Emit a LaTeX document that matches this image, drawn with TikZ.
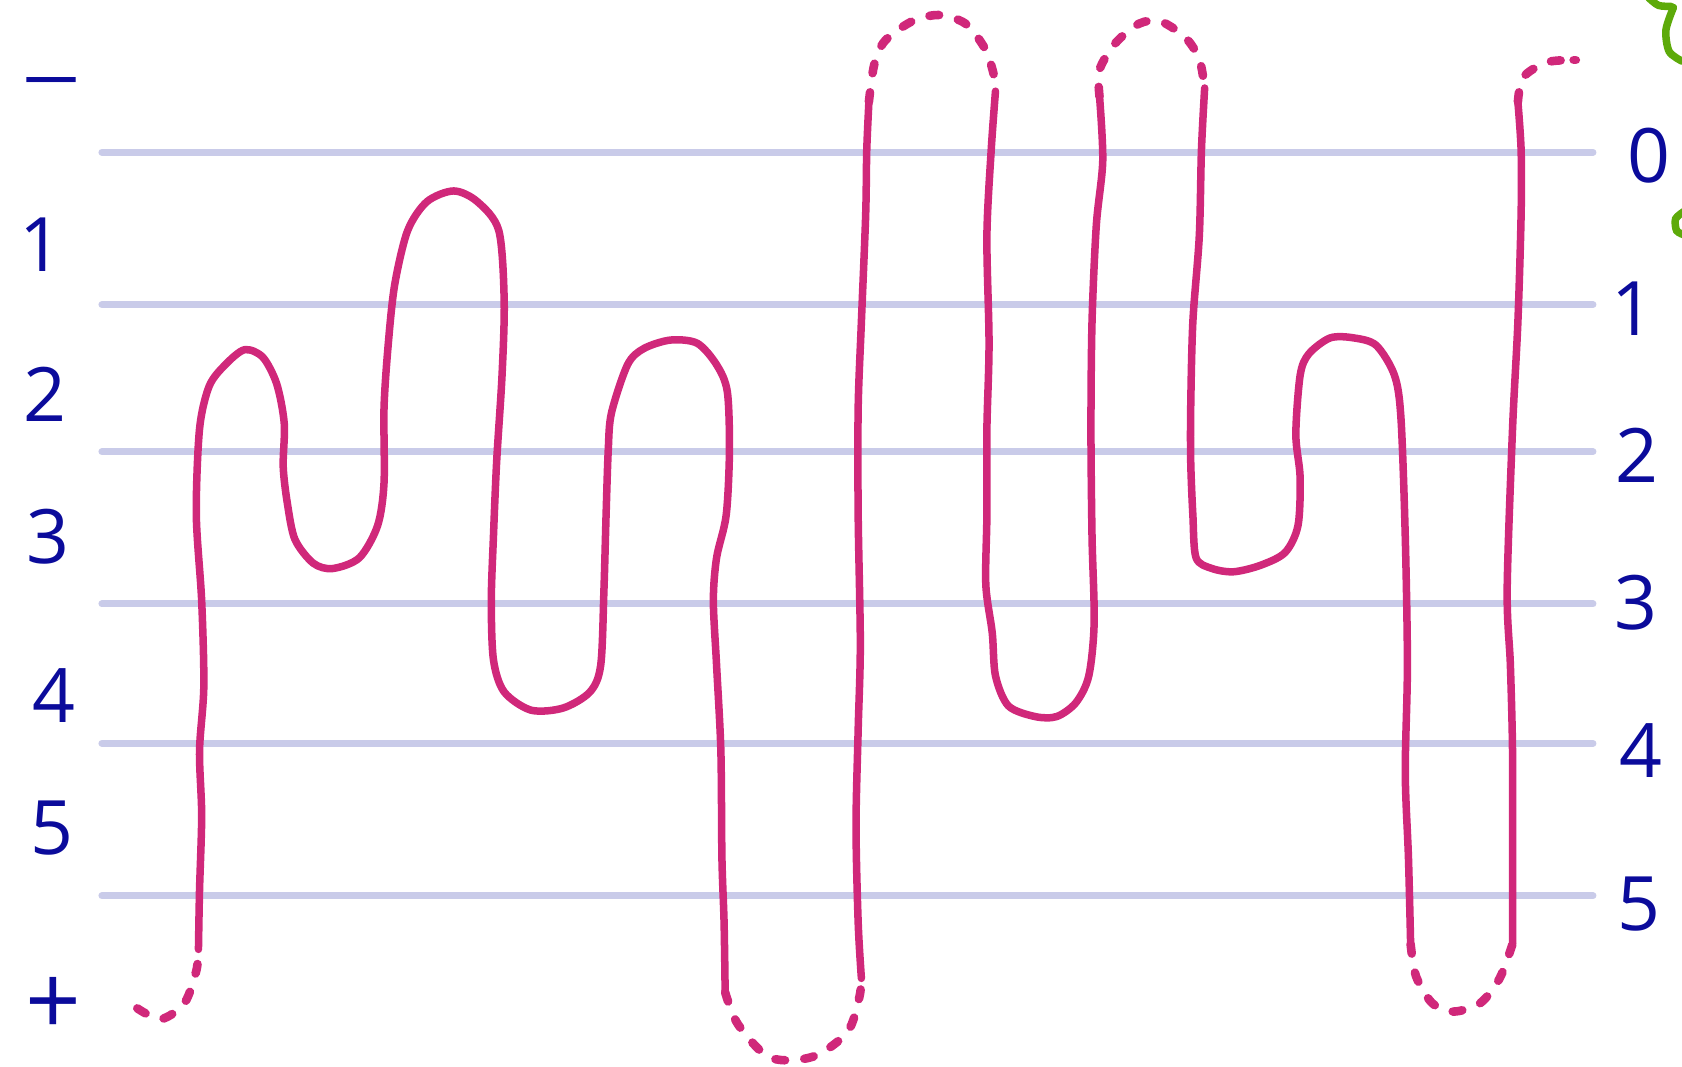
\documentclass[tikz,border=0pt]{standalone}
\usepackage{fontspec}
\setmainfont{Open Sans}
\definecolor{pen}{HTML}{D0287A}
\definecolor{staff}{HTML}{C9CBE9}
\definecolor{ink}{HTML}{0B0B9B}
\definecolor{leaf}{HTML}{5DAA0A}
\begin{document}
\begin{tikzpicture}[x=1pt,y=-1pt,
  staffline/.style={staff,line width=6.5pt,line cap=round},
  solidpen/.style={pen,line width=7pt,line cap=round,line join=round},
  dotpen/.style={pen,line width=8pt,line cap=round,dash pattern=on 9pt off 18pt},
  greenpen/.style={leaf,line width=7pt,line cap=round},
  lab/.style={ink,font=\fontsize{70}{70}\selectfont,inner sep=0pt}]
\useasboundingbox (0,0) rectangle (1568,994);
% staff lines
\foreach \y in {142,284,421,563,693,835}
  \draw[staffline] (95,\y) -- (1485,\y);
% left labels
\node[lab,xscale=1.4] (lminus) at (48,86) {−};
\node[lab] (l1) at (38,228) {1};
\node[lab] (l2) at (42,368) {2};
\node[lab] (l3) at (45,500) {3};
\node[lab] (l4) at (50,648) {4};
\node[lab] (l5) at (48,772) {5};
\node[lab,scale=1.3] (lplus) at (50,938) {+};
% right labels
\node[lab] (r0) at (1537,145) {0};
\node[lab] (r1) at (1522,288) {1};
\node[lab] (r2) at (1526,424) {2};
\node[lab] (r3) at (1525,562) {3};
\node[lab] (r4) at (1530,700) {4};
\node[lab] (r5) at (1528,843) {5};
% green fragments
\draw[greenpen] plot[smooth] coordinates {(1537,-2) (1546,5) (1558,6)};
\draw[greenpen] plot[smooth] coordinates {(1560,7) (1553,28) (1556,48) (1568,57)};
\draw[greenpen] plot[smooth] coordinates {(1570,197) (1562,204) (1563,215) (1570,219)};
% meander: dashed start
\draw[dotpen] plot[smooth] coordinates {(128,940) (150,950) (172,935) (183,905) (185,885)};
% solid 1
\draw[solidpen] plot[smooth,tension=0.5] coordinates {
 (185,885) (186,830) (188,760) (186,700) (190,640) (188,560) (183,480) (186,400)
 (195,360) (210,340) (228,326) (245,333) (258,358) (265,395) (264,435)
 (268,470) (275,503) (292,525) (310,530) (335,520) (352,490) (358,450) (358,380)
 (362,320) (368,265) (380,215) (398,188) (423,178) (445,188) (465,215) (470,280)
 (468,350) (463,430) (460,500) (458,560) (460,615) (470,645) (495,662) (525,660)
 (550,645) (560,620) (563,550) (565,480) (567,420) (570,385) (585,340) (600,325)
 (625,317) (650,320) (668,340) (678,365) (680,420) (677,480) (668,520) (665,560)
 (668,620) (672,700) (673,800) (675,860) (676,925)};
\draw[dotpen] plot[smooth] coordinates {(676,925) (688,955) (718,986) (758,985) (790,962) (801,930) (803,912)};
% solid 2
\draw[solidpen] plot[smooth,tension=0.5] coordinates {
 (803,912) (800,860) (798,770) (800,680) (802,600) (800,480) (800,380) (803,300)
 (807,200) (808,140) (810,95)};
\draw[dotpen] plot[smooth] coordinates {(810,95) (815,60) (825,38) (850,20) (875,14) (900,22) (918,45) (926,68) (928,85)};
% solid 3
\draw[solidpen] plot[smooth,tension=0.5] coordinates {
 (928,85) (924,140) (920,220) (922,320) (920,400) (920,480) (919,545) (925,590)
 (928,630) (940,658) (965,668) (985,668) (1003,655) (1015,630) (1020,580) (1018,500)
 (1017,400) (1018,300) (1022,210) (1028,150) (1025,90)};
\draw[dotpen] plot[smooth] coordinates {(1025,90) (1025,65) (1040,40) (1062,22) (1082,20) (1105,35) (1118,55) (1123,82)};
% solid 4
\draw[solidpen] plot[smooth,tension=0.5] coordinates {
 (1123,82) (1120,140) (1118,220) (1112,300) (1110,380) (1110,430) (1112,480) (1115,520)
 (1130,530) (1150,533) (1175,527) (1198,515) (1210,490) (1212,445) (1208,405) (1212,350)
 (1220,330) (1240,315) (1262,315) (1283,322) (1300,350) (1306,390) (1310,500) (1312,620)
 (1310,720) (1313,800) (1315,880)};
\draw[dotpen] plot[smooth] coordinates {(1315,880) (1320,910) (1335,935) (1355,943) (1380,935) (1398,912) (1410,880)};
% solid 5
\draw[solidpen] plot[smooth,tension=0.5] coordinates {
 (1410,880) (1410,800) (1410,700) (1408,620) (1405,550) (1410,400) (1415,300)
 (1418,200) (1418,140) (1415,95)};
\draw[dotpen] plot[smooth] coordinates {(1415,95) (1420,72) (1442,58) (1468,56)};
\draw[pen,line width=8pt,line cap=round] (1467,56) -- (1469,56);
\end{tikzpicture}
\end{document}
